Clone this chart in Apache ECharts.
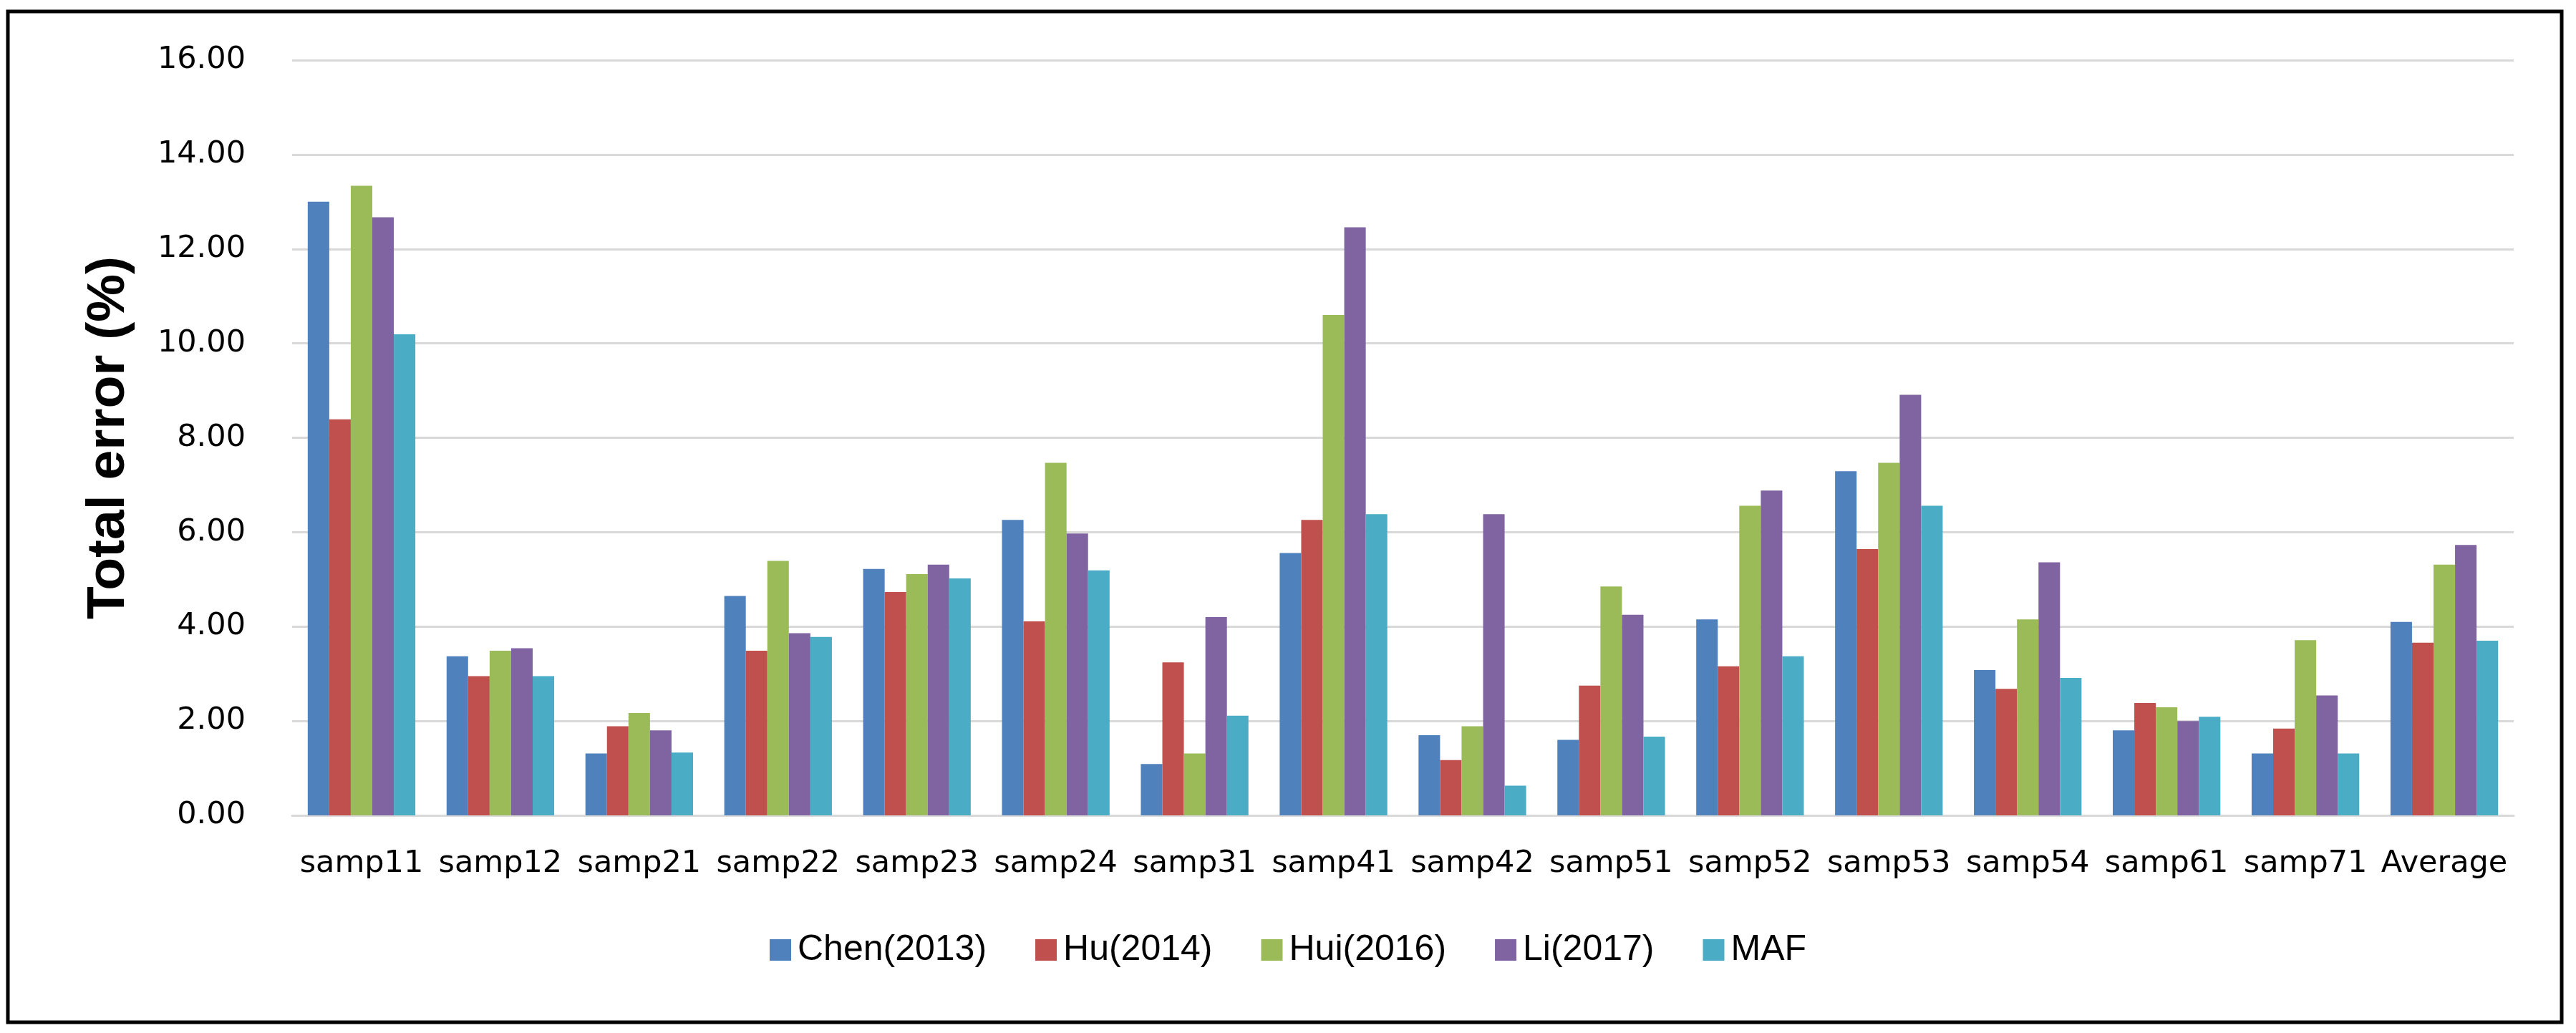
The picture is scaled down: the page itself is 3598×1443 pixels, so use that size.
<!DOCTYPE html>
<html>
<head>
<meta charset="utf-8">
<script src="https://cdn.jsdelivr.net/npm/echarts@6/dist/echarts.min.js"></script>
<style>html,body{margin:0;padding:0;background:#fff}#c{width:3598px;height:1443px}</style>
</head>
<body>
<div id="c"></div>
<script>
const categories = ['samp11','samp12','samp21','samp22','samp23','samp24','samp31','samp41','samp42','samp51','samp52','samp53','samp54','samp61','samp71','Average'];
const seriesNames = ['Chen(2013)','Hu(2014)','Hui(2016)','Li(2017)','MAF'];
const chen2013 = [13.00,3.37,1.31,4.65,5.22,6.26,1.09,5.56,1.70,1.60,4.15,7.29,3.08,1.80,1.31,4.10];
const hu2014   = [8.39,2.95,1.89,3.49,4.73,4.11,3.24,6.26,1.17,2.75,3.16,5.64,2.68,2.38,1.84,3.66];
const hui2016  = [13.34,3.49,2.17,5.39,5.11,7.47,1.31,10.60,1.89,4.85,6.56,7.47,4.15,2.29,3.71,5.31];
const li2017   = [12.67,3.54,1.80,3.86,5.31,5.97,4.20,12.46,6.38,4.25,6.88,8.91,5.36,2.00,2.54,5.73];
const maf      = [10.19,2.95,1.33,3.78,5.02,5.19,2.11,6.38,0.63,1.67,3.37,6.56,2.91,2.09,1.31,3.70];
const yTicks = [0,2,4,6,8,10,12,14,16];

const colors = ['#4F81BD','#C0504D','#9BBB59','#8064A2','#4BACC6'];
const allData = [chen2013, hu2014, hui2016, li2017, maf];

const chart = echarts.init(document.getElementById('c'), null, {renderer:'canvas'});
chart.setOption({
  animation: false,
  backgroundColor: '#ffffff',
  color: colors,
  graphic: [{
    type: 'rect',
    shape: {x: 11, y: 16, width: 3567, height: 1412},
    style: {fill: 'none', stroke: '#000', lineWidth: 5},
    z: 100
  }],
  grid: {left: 408, right: 87, top: 84, bottom: 304, containLabel: false},
  legend: {
    data: seriesNames,
    left: 'center',
    top: 1297,
    itemWidth: 30,
    itemHeight: 30,
    itemGap: 68,
    textStyle: {fontFamily: 'Liberation Sans, Arial, sans-serif', fontSize: 50, color: '#000', padding: [0,0,0,4]},
    icon: 'rect'
  },
  xAxis: {
    type: 'category',
    data: categories,
    axisTick: {show: false},
    axisLine: {lineStyle: {color: '#D9D9D9', width: 3}},
    axisLabel: {fontFamily: 'DejaVu Sans, sans-serif', fontSize: 43, color: '#000', margin: 46, interval: 0}
  },
  yAxis: {
    type: 'value',
    min: yTicks[0],
    max: yTicks[yTicks.length-1],
    interval: 2,
    name: 'Total error (%)',
    nameLocation: 'middle',
    nameGap: 218,
    nameTextStyle: {fontFamily: 'Liberation Sans, Arial, sans-serif', fontSize: 75, fontWeight: 'bold', color: '#000'},
    axisLine: {show: false},
    axisTick: {show: false},
    splitLine: {lineStyle: {color: '#D9D9D9', width: 3}},
    axisLabel: {fontFamily: 'DejaVu Sans, sans-serif', fontSize: 43, color: '#000', margin: 65, formatter: v => v.toFixed(2)}
  },
  series: seriesNames.map((n, i) => ({
    name: n,
    type: 'bar',
    data: allData[i],
    barGap: '0%',
    barCategoryGap: '22.5%',
    itemStyle: {color: colors[i]}
  }))
});
</script>
</body>
</html>
